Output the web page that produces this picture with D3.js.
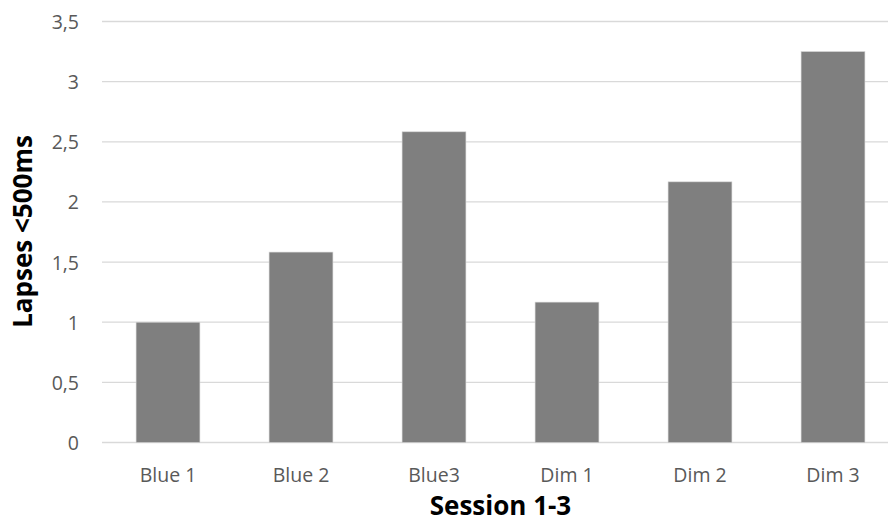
<!DOCTYPE html>
<html>
<head>
<meta charset="utf-8">
<script src="https://cdn.jsdelivr.net/npm/d3@7"></script>
<style>
  html, body { margin: 0; padding: 0; background: #fff; }
  svg { display: block; }
</style>
</head>
<body>
<svg id="chart" width="888" height="529"></svg>
<script>
const categories = ["Blue 1", "Blue 2", "Blue3", "Dim 1", "Dim 2", "Dim 3"];
const values = [1.0, 1.583, 2.583, 1.167, 2.167, 3.25];
const yTicks = [0, 0.5, 1, 1.5, 2, 2.5, 3, 3.5];
const xTitle = "Session 1-3";
const yTitle = "Lapses <500ms";

const svg = d3.select("#chart");
const font = "'Open Sans', sans-serif";

const x = d3.scaleBand().domain(categories).range([101.5, 899.5]).paddingInner(0.52).paddingOuter(0.26);
const y = d3.scaleLinear().domain([0, 3.5]).range([442.5, 21.5]);

// gridlines
svg.append("g").selectAll("line").data(yTicks).join("line")
  .attr("x1", 102).attr("x2", 900)
  .attr("y1", d => y(d)).attr("y2", d => y(d))
  .attr("stroke", "#d9d9d9").attr("stroke-width", 1.3);

// bars
svg.append("g").selectAll("rect").data(categories).join("rect")
  .attr("x", d => x(d))
  .attr("width", x.bandwidth())
  .attr("y", (d, i) => y(values[i]))
  .attr("height", (d, i) => y(0) - y(values[i]))
  .attr("fill", "#7f7f7f")
  .attr("stroke", "#d4d4d4").attr("stroke-width", 0.6);

// y axis labels
const fmt = v => String(v).replace(".", ",");
const yAxis = d3.axisLeft(y).tickValues(yTicks).tickFormat(fmt).tickSize(0).tickPadding(0);
const gy = svg.append("g").attr("transform", "translate(79,0)").call(yAxis);
gy.select(".domain").remove();
gy.selectAll("text").attr("font-family", font).attr("font-size", 19.5).attr("fill", "#595959").attr("dy", "0.36em");

// x axis labels
const xAxis = d3.axisBottom(x).tickSize(0).tickPadding(0);
const gx = svg.append("g").attr("transform", "translate(0,482)").call(xAxis);
gx.select(".domain").remove();
gx.selectAll("text").attr("font-family", font).attr("font-size", 19.5).attr("fill", "#595959")
  .attr("y", 0).attr("dy", 0);

// titles
svg.append("text").attr("x", 500.5).attr("y", 515)
  .attr("text-anchor", "middle").attr("font-family", font).attr("font-weight", "bold")
  .attr("font-size", 26).attr("fill", "#000").text(xTitle);

svg.append("text").attr("transform", "translate(32,231.5) rotate(-90)")
  .attr("text-anchor", "middle").attr("font-family", font).attr("font-weight", "bold")
  .attr("font-size", 26).attr("fill", "#000").text(yTitle);
</script>
</body>
</html>
